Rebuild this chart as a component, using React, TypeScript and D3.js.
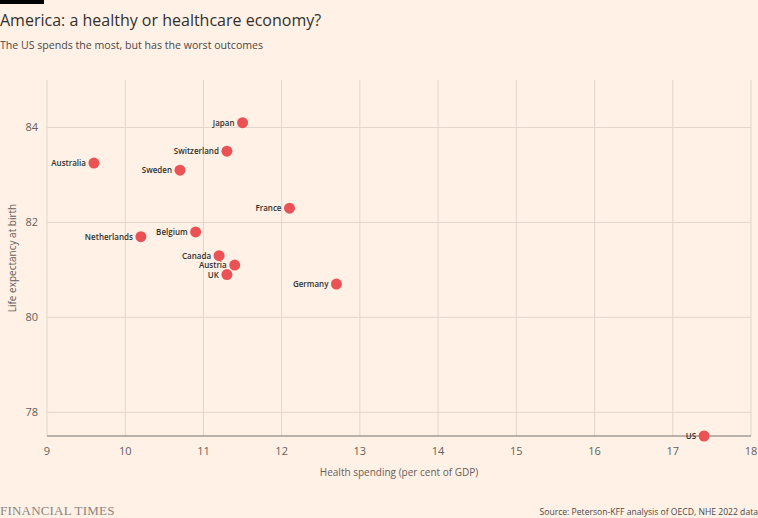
import React from "react";
import * as d3 from "d3";

const countries = ["Japan", "Switzerland", "Australia", "Sweden", "France", "Belgium", "Netherlands", "Canada", "Austria", "UK", "Germany", "US"];
const spending = [11.5, 11.3, 9.6, 10.7, 12.1, 10.9, 10.2, 11.2, 11.4, 11.3, 12.7, 17.4];
const lifeExpectancy = [84.1, 83.5, 83.25, 83.1, 82.3, 81.8, 81.7, 81.3, 81.1, 80.9, 80.7, 77.5];
const xTicks = [9, 10, 11, 12, 13, 14, 15, 16, 17, 18];
const yTicks = [78, 80, 82, 84];

const W = 758;
const H = 518;
const font = "'Open Sans', 'Noto Sans', sans-serif";

export default function App() {
  const x = d3.scaleLinear().domain([9, 18]).range([47, 751]);
  const y = d3.scaleLinear().domain([77.5, 85]).range([436, 80]);
  const [y0, y1] = y.range();

  return (
    <div style={{ position: "absolute", left: 0, top: 0 }}>
      <svg width={W} height={H} style={{ display: "block", background: "#fff1e5" }}>
        <rect x={0} y={0} width={44} height={4} fill="#000" />
        <text x={0} y={26} fontFamily={font} fontSize={16} fill="#33302e">
          America: a healthy or healthcare economy?
        </text>
        <text x={0} y={49} fontFamily={font} fontSize={10.6} fill="#4d4845">
          The US spends the most, but has the worst outcomes
        </text>

        {xTicks.map((t) => (
          <g key={"x" + t}>
            <line x1={x(t)} x2={x(t)} y1={y1} y2={y0} stroke="#e1d6cc" strokeWidth={1} />
            <text x={x(t)} y={455} textAnchor="middle" fontFamily={font} fontSize={11} fill="#66605c">
              {t}
            </text>
          </g>
        ))}
        {yTicks.map((t) => (
          <g key={"y" + t}>
            <line x1={x(9)} x2={x(18)} y1={y(t)} y2={y(t)} stroke="#e1d6cc" strokeWidth={1} />
            <text x={38} y={y(t) + 4} textAnchor="end" fontFamily={font} fontSize={11} fill="#66605c">
              {t}
            </text>
          </g>
        ))}
        <line x1={x(9)} x2={x(18)} y1={y0} y2={y0} stroke="#7a736e" strokeWidth={1} />

        <text
          transform={`translate(16,${(y0 + y1) / 2}) rotate(-90)`}
          textAnchor="middle"
          fontFamily={font}
          fontSize={10}
          fill="#66605c"
        >
          Life expectancy at birth
        </text>
        <text x={399} y={476} textAnchor="middle" fontFamily={font} fontSize={10} fill="#66605c">
          Health spending (per cent of GDP)
        </text>

        {countries.map((c, i) => (
          <g key={c}>
            <circle cx={x(spending[i])} cy={y(lifeExpectancy[i])} r={5.5} fill="#eb5256" />
            <text
              x={x(spending[i]) - 8}
              y={y(lifeExpectancy[i]) + 3}
              textAnchor="end"
              fontFamily={font}
              fontSize={8}
              fontWeight={600}
              fill="#33302e"
            >
              {c}
            </text>
          </g>
        ))}

        <text x={0} y={515} fontFamily="'Liberation Serif', 'DejaVu Serif', serif" fontSize={13} fill="#8c857f" letterSpacing={0.2}>
          FINANCIAL TIMES
        </text>
        <text x={758} y={515} textAnchor="end" fontFamily={font} fontSize={8.6} fill="#4d4845">
          Source: Peterson-KFF analysis of OECD, NHE 2022 data
        </text>
      </svg>
    </div>
  );
}
